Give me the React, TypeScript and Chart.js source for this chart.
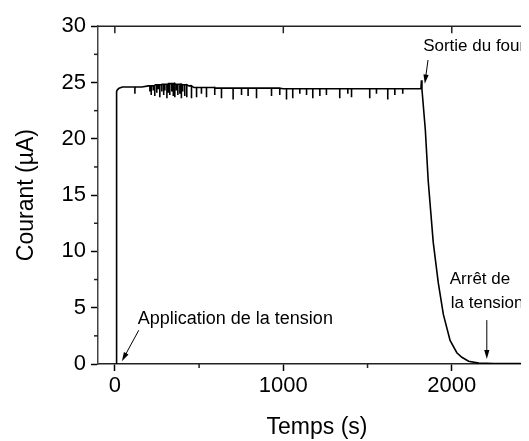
import React, { useEffect, useRef } from "react";
import { Chart, registerables } from "chart.js";

Chart.register(...registerables);

// Main current trace (time in s, current in µA)
const curveTimes = [8, 9, 10, 12, 15, 25, 45, 80, 120, 160, 200, 240, 280, 320, 360, 400, 440, 470, 600, 800, 1000, 1200, 1400, 1600, 1817, 1820, 1823, 1843, 1860, 1890, 1920, 1950, 1990, 2030, 2060, 2100, 2160, 2250, 2500];
const curveValues = [0, 12, 24.0, 24.2, 24.35, 24.5, 24.6, 24.6, 24.6, 24.6, 24.7, 24.8, 24.85, 24.9, 24.85, 24.8, 24.7, 24.55, 24.5, 24.5, 24.45, 24.45, 24.45, 24.45, 24.45, 25.2, 24.4, 20.8, 16.3, 10.8, 7.2, 4.4, 2.1, 1.0, 0.6, 0.25, 0.08, 0.05, 0.05];

// Downward noise spikes on the plateau
const spikeTimes = [119, 208, 216, 228, 237, 249, 258, 267, 279, 290, 297, 309, 318, 326, 338, 347, 356, 366, 374, 386, 395, 403, 415, 427, 455, 485, 514, 544, 593, 633, 702, 752, 791, 841, 930, 979, 1019, 1056, 1098, 1138, 1175, 1217, 1256, 1335, 1383, 1405, 1513, 1553, 1620, 1662, 1709];
const spikeValues = [24.0, 24.2, 23.9, 24.3, 23.8, 24.1, 24.4, 23.7, 24.2, 23.9, 24.3, 23.6, 24.1, 23.9, 24.2, 23.8, 23.7, 24.3, 23.9, 24.0, 23.6, 24.2, 23.8, 23.7, 23.6, 23.7, 24.0, 23.7, 23.9, 23.6, 23.5, 23.9, 23.8, 23.6, 23.8, 23.9, 23.5, 23.6, 24.0, 23.9, 23.6, 23.8, 23.9, 23.6, 24.0, 23.7, 23.6, 24.0, 23.5, 23.9, 24.0];

const xMajorTicks = [0, 1000, 2000];
const xMinorTicks = [500, 1500, 2500];
const yMajorTicks = [0, 5, 10, 15, 20, 25, 30];
const yMinorTicks = [2.5, 7.5, 12.5, 17.5, 22.5, 27.5];

const xTitle = "Temps (s)";
const yTitle = "Courant (µA)";
const noteApplication = ["Application de la tension"];
const noteSortie = ["Sortie du four"];
const noteArret = ["Arrêt de", "la tension"];

function buildPoints() {
  const pts: { x: number; y: number }[] = [];
  const spikes = spikeTimes.map((t, i) => ({ t, v: spikeValues[i] }));
  let si = 0;
  for (let i = 0; i < curveTimes.length; i++) {
    const t = curveTimes[i];
    while (si < spikes.length && spikes[si].t < t) {
      const base = curveValues[i - 1];
      pts.push({ x: spikes[si].t, y: base });
      pts.push({ x: spikes[si].t, y: spikes[si].v });
      pts.push({ x: spikes[si].t, y: base });
      si++;
    }
    pts.push({ x: t, y: curveValues[i] });
  }
  return pts;
}

const FONT = '"Liberation Sans", Arial, Helvetica, sans-serif';

const decorPlugin = {
  id: "decor",
  afterDraw(chart: any) {
    const { ctx, chartArea } = chart;
    const xs = chart.scales.x;
    const ys = chart.scales.y;
    const X = (v: number) => xs.getPixelForValue(v);
    const Y = (v: number) => ys.getPixelForValue(v);
    ctx.save();
    ctx.strokeStyle = "#222";
    ctx.lineWidth = 1.5;
    ctx.beginPath();
    ctx.moveTo(chartArea.left, chartArea.top);
    ctx.lineTo(chartArea.right, chartArea.top);
    ctx.stroke();
    xMajorTicks.forEach((t) => {
      const p = X(t);
      ctx.beginPath();
      ctx.moveTo(p, chartArea.top);
      ctx.lineTo(p, chartArea.top + 7);
      ctx.stroke();
    });
    xMinorTicks.forEach((t) => {
      const p = X(t);
      ctx.beginPath();
      ctx.moveTo(p, chartArea.bottom);
      ctx.lineTo(p, chartArea.bottom + 4);
      ctx.stroke();
    });
    yMinorTicks.forEach((v) => {
      const p = Y(v);
      ctx.beginPath();
      ctx.moveTo(chartArea.left, p);
      ctx.lineTo(chartArea.left - 4, p);
      ctx.stroke();
    });

    ctx.fillStyle = "#000";
    ctx.textAlign = "left";
    ctx.textBaseline = "middle";
    ctx.font = `18px ${FONT}`;
    ctx.fillText(noteApplication[0], X(136), Y(4.0));
    ctx.font = `17px ${FONT}`;
    ctx.fillText(noteSortie[0], X(1830), Y(28.2));
    ctx.fillText(noteArret[0], X(1988), Y(7.5));
    ctx.fillText(noteArret[1], X(1994), Y(5.4));

    const arrow = (x1: number, y1: number, x2: number, y2: number) => {
      const ax = X(x1), ay = Y(y1), bx = X(x2), by = Y(y2);
      const ang = Math.atan2(by - ay, bx - ax);
      const L = 9, W = 2.6;
      ctx.strokeStyle = "#000";
      ctx.lineWidth = 1;
      ctx.beginPath();
      ctx.moveTo(ax, ay);
      ctx.lineTo(bx - Math.cos(ang) * L * 0.8, by - Math.sin(ang) * L * 0.8);
      ctx.stroke();
      ctx.beginPath();
      ctx.moveTo(bx, by);
      ctx.lineTo(bx - Math.cos(ang) * L - Math.sin(ang) * W, by - Math.sin(ang) * L + Math.cos(ang) * W);
      ctx.lineTo(bx - Math.cos(ang) * L + Math.sin(ang) * W, by - Math.sin(ang) * L - Math.cos(ang) * W);
      ctx.closePath();
      ctx.fill();
    };
    arrow(142, 3.0, 42, 0.25);
    arrow(1859, 27.0, 1840, 24.9);
    arrow(2208, 3.9, 2208, 0.45);
    ctx.restore();
  },
};

export default function App() {
  const ref = useRef<HTMLCanvasElement>(null);
  useEffect(() => {
    document.documentElement.style.overflow = "hidden";
    const canvas = ref.current!;
    const chart = new Chart(canvas, {
      type: "line",
      data: {
        datasets: [
          {
            data: buildPoints(),
            borderColor: "#000",
            borderWidth: 1.6,
            pointRadius: 0,
            tension: 0,
            fill: false,
          },
        ],
      },
      options: {
        animation: false,
        responsive: false,
        parsing: false as any,
        layout: { padding: { top: 18, right: 32, left: 0, bottom: 0 } },
        plugins: { legend: { display: false }, tooltip: { enabled: false } },
        scales: {
          x: {
            type: "linear",
            min: -100,
            max: 2500,
            afterBuildTicks: (s: any) => {
              s.ticks = xMajorTicks.map((v) => ({ value: v }));
            },
            afterFit: (s: any) => {
              s.height = 77;
            },
            ticks: {
              color: "#000",
              font: { family: FONT, size: 22 },
              padding: 2,
              maxRotation: 0,
              autoSkip: false,
              callback: (v: any) => String(v),
            },
            grid: { display: true, drawOnChartArea: false, drawTicks: true, tickLength: 7, tickColor: "#000", tickWidth: 1.5 },
            border: { display: true, color: "#222", width: 1.5 },
            title: { display: true, text: xTitle, color: "#000", font: { family: FONT, size: 23 }, padding: { top: 0, bottom: 0 } },
          },
          y: {
            type: "linear",
            min: 0,
            max: 30,
            afterBuildTicks: (s: any) => {
              s.ticks = yMajorTicks.map((v) => ({ value: v }));
            },
            afterFit: (s: any) => {
              s.width = 90;
            },
            ticks: {
              color: "#000",
              font: { family: FONT, size: 22 },
              padding: 5,
              autoSkip: false,
              callback: (v: any) => String(v),
            },
            grid: { display: true, drawOnChartArea: false, drawTicks: true, tickLength: 7, tickColor: "#000", tickWidth: 1.5 },
            border: { display: true, color: "#444", width: 1.5 },
            title: { display: true, text: yTitle, color: "#000", font: { family: FONT, size: 23 }, padding: { top: 5, bottom: 0 } },
          },
        },
      },
      plugins: [decorPlugin],
    });
    return () => chart.destroy();
  }, []);
  return (
    <div style={{ width: 521, height: 433, overflow: "hidden" }}>
      <canvas ref={ref} width={560} height={433} style={{ display: "block" }} />
    </div>
  );
}
